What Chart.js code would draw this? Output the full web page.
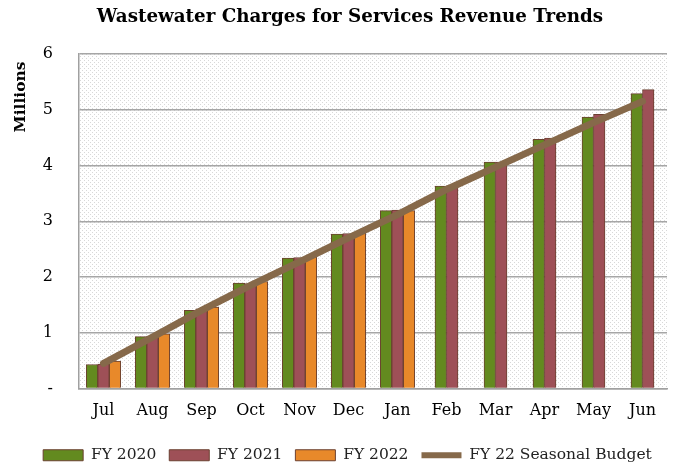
<!DOCTYPE html>
<html>
<head>
<meta charset="utf-8">
<script src="https://cdn.jsdelivr.net/npm/chart.js@4"></script>
<style>
  html, body { margin: 0; padding: 0; background: #fff; }
  #wrap { width: 678px; height: 467px; }
</style>
</head>
<body>
<div id="wrap"><canvas id="revChart"></canvas></div>
<script>
const months = ['Jul', 'Aug', 'Sep', 'Oct', 'Nov', 'Dec', 'Jan', 'Feb', 'Mar', 'Apr', 'May', 'Jun'];
const fy2020 = [0.43, 0.93, 1.40, 1.89, 2.34, 2.77, 3.19, 3.63, 4.06, 4.47, 4.87, 5.29];
const fy2021 = [0.44, 0.94, 1.43, 1.88, 2.35, 2.78, 3.20, 3.64, 4.06, 4.49, 4.92, 5.36];
const fy2022 = [0.49, 0.98, 1.46, 1.92, 2.36, 2.79, 3.19, null, null, null, null, null];
const budget22 = [0.45, 0.92, 1.40, 1.85, 2.27, 2.70, 3.12, 3.57, 3.97, 4.37, 4.77, 5.15];
const yTicks = ['-', '1', '2', '3', '4', '5', '6'];

const chartTitle = 'Wastewater Charges for Services Revenue Trends';
const yTitle = 'Millions';
const serif = "'DejaVu Serif', serif";

function makePattern() {
  const c = document.createElement('canvas');
  c.width = 4; c.height = 4;
  const g = c.getContext('2d');
  g.fillStyle = '#ffffff';
  g.fillRect(0, 0, 4, 4);
  g.fillStyle = '#d8d8d8';
  g.fillRect(0, 0, 1, 1);
  g.fillRect(2, 2, 1, 1);
  return g.createPattern(c, 'repeat');
}

// dotted plot background, title and rotated axis label
const plotDeco = {
  id: 'plotDeco',
  beforeDraw(chart) {
    const { ctx, chartArea: a } = chart;
    ctx.save();
    ctx.fillStyle = makePattern();
    ctx.fillRect(a.left, a.top, a.right - a.left, a.bottom - a.top);
    ctx.restore();
  },
  afterDraw(chart) {
    const ctx = chart.ctx;
    ctx.save();
    ctx.fillStyle = '#000';
    ctx.textAlign = 'center';
    ctx.textBaseline = 'middle';
    ctx.font = "bold 18.3px " + serif;
    ctx.fillText(chartTitle, 350, 17);
    ctx.translate(21, 97);
    ctx.rotate(-Math.PI / 2);
    ctx.font = "bold 15.5px " + serif;
    ctx.fillText(yTitle, 0, 0);
    ctx.restore();
  }
};

const edge = '#6b4030';
const barCommon = { borderColor: edge, borderWidth: 1, barThickness: 11.5, skipNull: true, order: 2 };

new Chart(document.getElementById('revChart'), {
  type: 'bar',
  data: {
    labels: months,
    datasets: [
      Object.assign({ label: 'FY 2020', data: fy2020, backgroundColor: '#638a1f' }, barCommon),
      Object.assign({ label: 'FY 2021', data: fy2021, backgroundColor: '#9e5057' }, barCommon),
      Object.assign({ label: 'FY 2022', data: fy2022, backgroundColor: '#e8892a' }, barCommon),
      {
        type: 'line', label: 'FY 22 Seasonal Budget', data: budget22,
        borderColor: '#86694a', backgroundColor: '#86694a', borderWidth: 7,
        borderCapStyle: 'round', pointRadius: 0, tension: 0, order: 1
      }
    ]
  },
  options: {
    responsive: true,
    maintainAspectRatio: false,
    animation: false,
    layout: { padding: { left: 28, right: 11, top: 54, bottom: -6 } },
    plugins: {
      title: { display: false },
      legend: {
        position: 'bottom',
        labels: {
          color: '#222',
          font: { family: serif, size: 15.5 },
          usePointStyle: true,
          pointStyleWidth: 40,
          boxHeight: 11,
          padding: 13,
          generateLabels(chart) {
            return chart.data.datasets.map((ds, i) => ({
              text: ds.label,
              fillStyle: ds.backgroundColor,
              strokeStyle: ds.type === 'line' ? ds.borderColor : edge,
              lineWidth: ds.type === 'line' ? 6 : 1,
              pointStyle: ds.type === 'line' ? 'line' : 'rect',
              fontColor: '#222',
              datasetIndex: i,
              hidden: false
            }));
          }
        }
      },
      tooltip: { enabled: false }
    },
    scales: {
      x: {
        afterFit(scale) { scale.height = 46; },
        grid: { display: false, drawTicks: false },
        border: { color: '#a0a0a0', width: 1.5 },
        ticks: { color: '#000', font: { family: serif, size: 16 }, padding: 13 }
      },
      y: {
        min: 0, max: 6,
        afterFit(scale) { scale.width = 51; },
        grid: { color: '#a6a6a6', lineWidth: 1.5, drawTicks: false },
        border: { color: '#a0a0a0', width: 1.5 },
        ticks: {
          stepSize: 1,
          color: '#000',
          font: { family: serif, size: 16 },
          padding: 26,
          callback: (v) => yTicks[v]
        }
      }
    }
  },
  plugins: [plotDeco]
});
</script>
</body>
</html>
